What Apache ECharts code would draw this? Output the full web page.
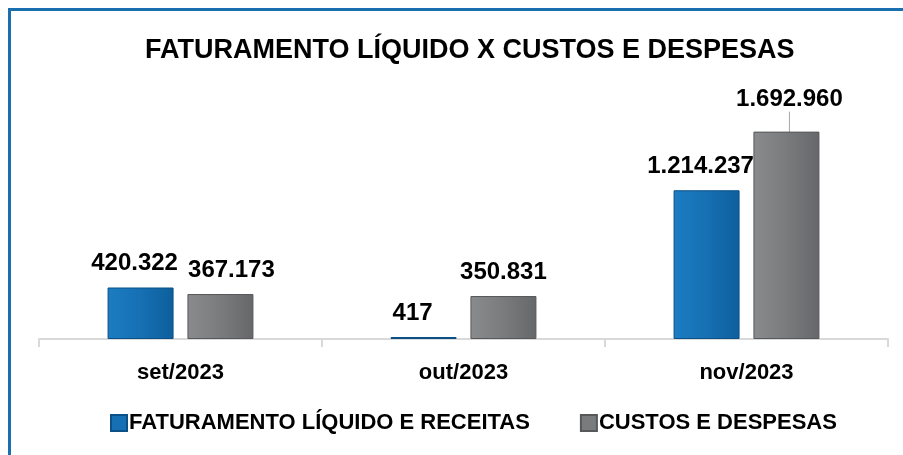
<!DOCTYPE html>
<html>
<head>
<meta charset="utf-8">
<script src="https://cdn.jsdelivr.net/npm/echarts@6/dist/echarts.min.js"></script>
<style>
  html, body { margin: 0; padding: 0; background: #fff; }
  #main { width: 903px; height: 455px; }
</style>
</head>
<body>
<div id="main"></div>
<script>
// dados do gráfico
const meses = ['set/2023', 'out/2023', 'nov/2023'];
const faturamento = [420322, 417, 1214237];
const custos = [367173, 350831, 1692960];
const nomes = ['FATURAMENTO LÍQUIDO E RECEITAS', 'CUSTOS E DESPESAS'];

const fonte = '"Liberation Sans", Arial, sans-serif';

// formato pt-BR: 1.214.237
function fmt(v) {
    return String(v).replace(/\B(?=(\d{3})+(?!\d))/g, '.');
}

// deslocamento horizontal dos rótulos (como no Excel)
const desvioAzul = [-6, -11, -6];
const desvioCinza = [11, 0, 3];

const azul = new echarts.graphic.LinearGradient(0, 0, 1, 0, [
    { offset: 0, color: '#1c7cc2' },
    { offset: 0.5, color: '#1670b3' },
    { offset: 1, color: '#0d5f9c' }
]);
const cinza = new echarts.graphic.LinearGradient(0, 0, 1, 0, [
    { offset: 0, color: '#8a8b8d' },
    { offset: 0.5, color: '#7a7b7d' },
    { offset: 1, color: '#66676a' }
]);

const rotulo = {
    show: true,
    position: 'top',
    distance: 12,
    formatter: p => fmt(p.value),
    fontFamily: fonte, fontSize: 24, fontWeight: 'bold', color: '#000'
};

const chart = echarts.init(document.getElementById('main'));
const option = {
    animation: false,
    title: {
        text: 'FATURAMENTO LÍQUIDO X CUSTOS E DESPESAS',
        left: 140,
        top: 32,
        textStyle: { fontFamily: fonte, fontSize: 27, fontWeight: 'bold', color: '#000' }
    },
    legend: {
        bottom: 16,
        left: 105,
        itemWidth: 16,
        itemHeight: 16,
        itemGap: 50,
        icon: 'rect',
        textStyle: { fontFamily: fonte, fontSize: 22, fontWeight: 'bold', color: '#000', padding: [0, 0, 0, -3] },
        data: [
            { name: nomes[0], itemStyle: { color: '#1670b3' } },
            { name: nomes[1], itemStyle: { color: '#7a7b7d' } }
        ]
    },
    grid: { left: 39, right: 15, top: 94, bottom: 116 },
    xAxis: {
        type: 'category',
        data: meses,
        axisLine: { lineStyle: { color: '#d9d9d9', width: 2 } },
        axisTick: { show: true, length: 8, lineStyle: { color: '#d9d9d9', width: 2 } },
        axisLabel: { margin: 23, fontFamily: fonte, fontSize: 22, fontWeight: 'bold', color: '#000' }
    },
    yAxis: {
        type: 'value',
        min: 0,
        max: 2000000,
        show: false,
        splitLine: { show: false }
    },
    series: [
        {
            name: nomes[0],
            type: 'bar',
            data: faturamento,
            barWidth: 66,
            barGap: '21%',
            barMinHeight: 2,
            itemStyle: { color: azul, borderColor: '#0b5187', borderWidth: 1 },
            label: rotulo,
            labelLayout: p => ({ dx: desvioAzul[p.dataIndex] })
        },
        {
            name: nomes[1],
            type: 'bar',
            data: custos.map((v, i) => ({ value: v, labelLine: { show: i === 2 } })),
            barWidth: 66,
            itemStyle: { color: cinza, borderColor: '#57585a', borderWidth: 1 },
            label: rotulo,
            labelLayout: p => ({ dx: desvioCinza[p.dataIndex], dy: p.dataIndex === 2 ? -8 : 0 }),
            labelLine: { show: true, lineStyle: { color: '#a6a6a6', width: 1 } }
        }
    ],
    graphic: [
        { type: 'rect', shape: { x: 8, y: 8, width: 895, height: 3 }, style: { fill: '#1a6fae' } },
        { type: 'rect', shape: { x: 8, y: 8, width: 3, height: 447 }, style: { fill: '#1a6fae' } }
    ]
};
chart.setOption(option);
</script>
</body>
</html>
